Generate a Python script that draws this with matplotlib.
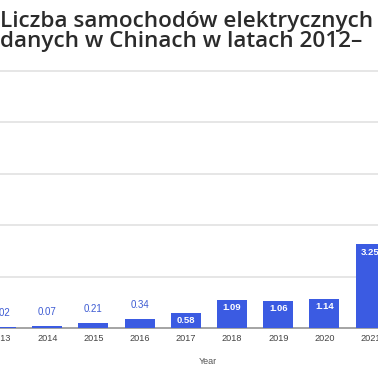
import matplotlib.pyplot as plt

years = [2013, 2014, 2015, 2016, 2017, 2018, 2019, 2020, 2021]
sales = [0.02, 0.07, 0.21, 0.34, 0.58, 1.09, 1.06, 1.14, 3.25]
value_labels = ["0.02", "0.07", "0.21", "0.34", "0.58", "1.09", "1.06", "1.14", "3.25"]
grid_ticks = [0, 2, 4, 6, 8, 10]
title_lines = ["Liczba samochodów elektrycznych", "danych w Chinach w latach 2012–"]

bar_color = "#3b5be2"
label_blue = "#3d5bd3"

fig = plt.figure(figsize=(3.78, 3.70), dpi=100)
# axes is wider than the visible crop, the picture only shows a part of it
ax = fig.add_axes([0, 42 / 370, 1, 257.5 / 370])

ax.bar(years, sales, width=0.65, color=bar_color, zorder=3)
ax.set_xlim(2013 - 1 / 46.2, 2013 + 377 / 46.2)
ax.set_ylim(0, 10)

ax.set_yticks(grid_ticks)
ax.set_yticklabels([])
ax.tick_params(axis="y", length=0)
ax.grid(axis="y", color="#e2e2e2", linewidth=1.2, zorder=0)
for gl in ax.get_ygridlines():
    gl.set_clip_on(False)

ax.set_xticks(years)
ax.set_xticklabels([str(y) for y in years], fontsize=6.6, color="#444444",
                   family="Liberation Sans")
ax.tick_params(axis="x", length=0, pad=4)

for s in ["top", "left", "right"]:
    ax.spines[s].set_visible(False)
ax.spines["bottom"].set_color("#9a9a9a")
ax.spines["bottom"].set_linewidth(1.2)

for x, v, lab in zip(years, sales, value_labels):
    if v >= 0.5:
        ax.text(x, v - 0.3, lab, ha="center", va="center", color="white",
                fontsize=6.8, fontweight="bold", family="Liberation Sans", zorder=4)
    else:
        ax.text(x, v + 0.35, lab, ha="center", va="bottom", color=label_blue,
                fontsize=7, family="Liberation Sans", zorder=4)

fig.text(208 / 378, 1 - 361 / 370, "Year", ha="center", va="center",
         fontsize=6.5, color="#555555", family="Liberation Sans")

fig.text(0.0, 1 - 26.5 / 370, title_lines[0], ha="left", va="baseline",
         fontsize=16.2, fontweight="semibold", color="#2b2b2b", family="Open Sans")
fig.text(0.0, 1 - 47.5 / 370, title_lines[1], ha="left", va="baseline",
         fontsize=16.2, fontweight="semibold", color="#2b2b2b", family="Open Sans")

fig.savefig("out.png", dpi=100)
